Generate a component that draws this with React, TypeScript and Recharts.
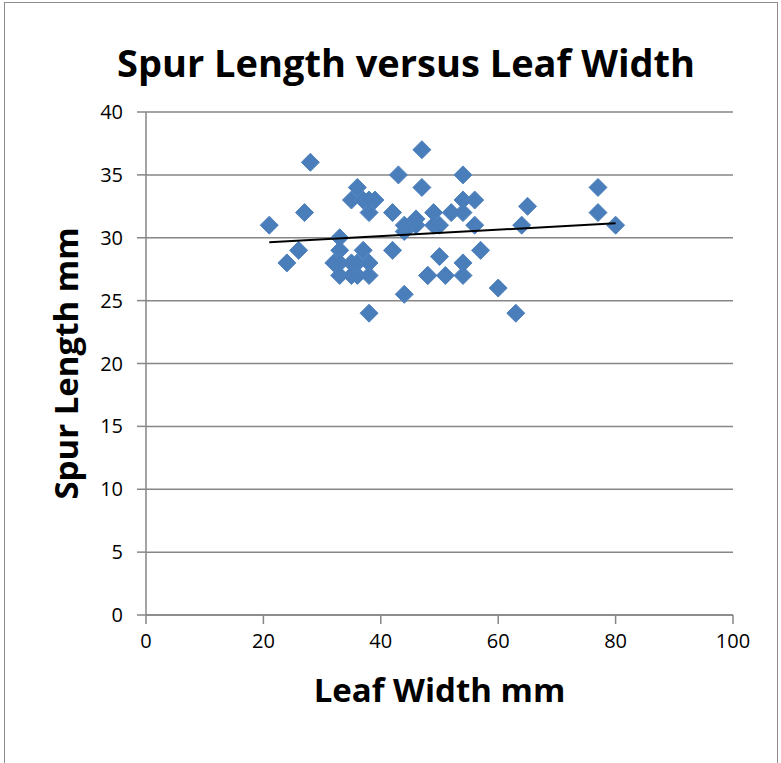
import React from 'react';
import { ScatterChart, Scatter, XAxis, YAxis, CartesianGrid, Label } from 'recharts';

// Leaf width (mm) and spur length (mm)
const leafWidth = [
  21, 24, 26, 27, 28, 32, 33, 33, 33, 33, 35, 35, 35, 36, 36, 36, 37, 37, 38, 38,
  38, 38, 39, 42, 42, 43, 44, 44, 46, 46, 47, 47, 48, 48, 49, 49, 50, 50, 51, 52,
  54, 54, 54, 54, 54, 56, 56, 57, 60, 63, 64, 65, 77, 77, 80, 38, 44,
];
const spurLength = [
  31, 28, 29, 32, 36, 28, 30, 29, 28, 27, 33, 28, 27, 34, 27, 28, 33, 29, 32, 28,
  27, 33, 33, 32, 29, 35, 31, 30.5, 31.5, 31, 37, 34, 27, 27, 32, 31, 31, 28.5, 27, 32,
  35, 33, 32, 28, 27, 33, 31, 29, 26, 24, 31, 32.5, 34, 32, 31, 24, 25.5,
];

const xTicks = [0, 20, 40, 60, 80, 100];
const yTicks = [0, 5, 10, 15, 20, 25, 30, 35, 40];

const points = leafWidth.map((x, i) => ({ x, y: spurLength[i] }));

// least squares trendline, like Excel's linear trendline
const n = points.length;
const mx = leafWidth.reduce((a, b) => a + b, 0) / n;
const my = spurLength.reduce((a, b) => a + b, 0) / n;
let sxy = 0;
let sxx = 0;
points.forEach(p => {
  sxy += (p.x - mx) * (p.y - my);
  sxx += (p.x - mx) * (p.x - mx);
});
const slope = sxy / sxx;
const intercept = my - slope * mx;
const xMin = Math.min(...leafWidth);
const xMax = Math.max(...leafWidth);
const trend = [
  { x: xMin, y: intercept + slope * xMin },
  { x: xMax, y: intercept + slope * xMax },
];

const font = '"Open Sans", "Noto Sans", sans-serif';

const Diamond = (props: any) => {
  const { cx, cy } = props;
  const r = 9;
  return (
    <polygon
      points={`${cx},${cy - r} ${cx + r},${cy} ${cx},${cy + r} ${cx - r},${cy}`}
      fill="#4A7EBB"
      stroke="#4F81BD"
      strokeWidth={1}
    />
  );
};

const App: React.FC = () => {
  return (
    <div style={{ position: 'absolute', left: 0, top: 0, width: 781, height: 763, overflow: 'hidden', background: '#fff', fontFamily: font }}>
      <svg width={781} height={763} style={{ position: 'absolute', left: 0, top: 0 }}>
        <rect x={4.5} y={2.5} width={773} height={800} fill="#fff" stroke="#8c8c8c" strokeWidth={1} />
      </svg>
      <div style={{ position: 'absolute', left: 0, top: 36, width: 812, textAlign: 'center', fontSize: 38, fontWeight: 700, color: '#000' }}>
        Spur Length versus Leaf Width
      </div>
      <div style={{ position: 'absolute', left: 0, top: 0 }}>
        <ScatterChart width={781} height={763} margin={{ top: 112, right: 48, bottom: 0, left: 60 }}>
          <CartesianGrid horizontal vertical={false} stroke="#868686" strokeWidth={1.5} />
          <XAxis
            type="number"
            dataKey="x"
            domain={[0, 100]}
            ticks={xTicks}
            height={148}
            stroke="#868686"
            strokeWidth={1.5}
            tickSize={9}
            tickMargin={10}
            tick={{ fill: '#000', fontSize: 20, fontFamily: font }}
          >
            <Label value="Leaf Width mm" position="insideTop" offset={64} style={{ fontSize: 33, fontWeight: 700, fill: '#000', fontFamily: font }} />
          </XAxis>
          <YAxis
            type="number"
            dataKey="y"
            domain={[0, 40]}
            ticks={yTicks}
            width={86}
            stroke="#868686"
            strokeWidth={1.5}
            tickSize={9}
            tickMargin={14}
            tick={{ fill: '#000', fontSize: 20, fontFamily: font }}
          >
            <Label value="Spur Length mm" angle={-90} position="insideLeft" offset={6} style={{ textAnchor: 'middle', fontSize: 33, fontWeight: 700, fill: '#000', fontFamily: font }} />
          </YAxis>
          <Scatter data={points} shape={<Diamond />} isAnimationActive={false} />
          <Scatter
            data={trend}
            line={{ stroke: '#000', strokeWidth: 2 }}
            shape={() => <g />}
            isAnimationActive={false}
          />
        </ScatterChart>
      </div>
    </div>
  );
};

export default App;
